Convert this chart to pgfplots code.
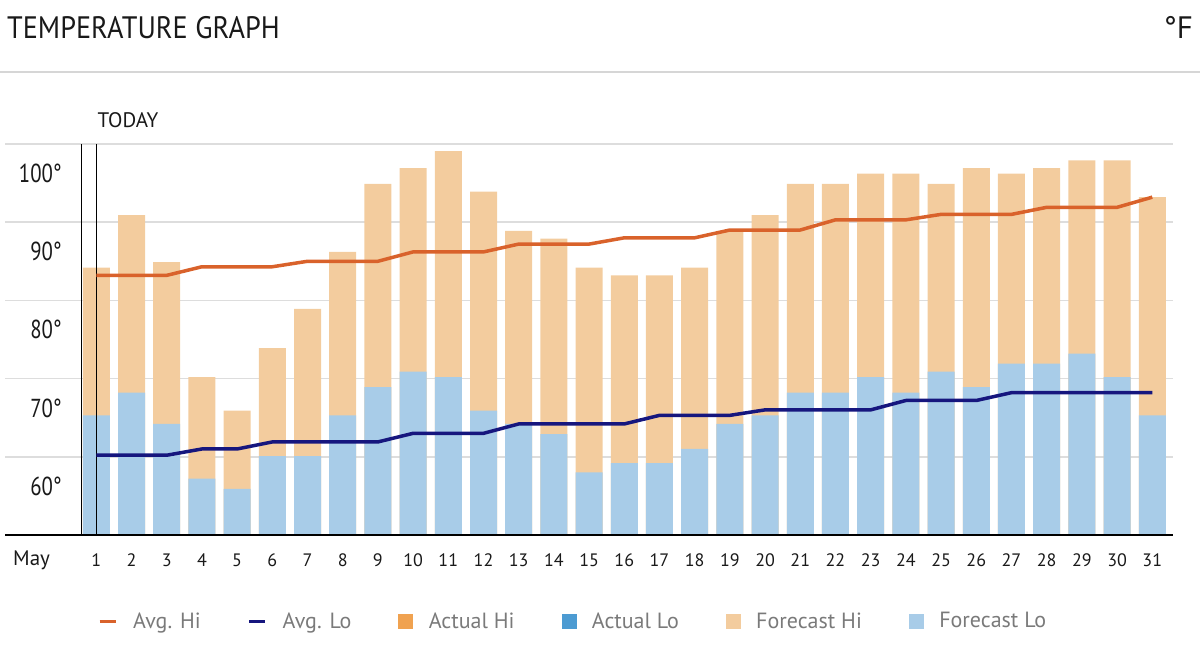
\documentclass[border=0pt]{standalone}
\usepackage{fontspec}
\setmainfont{PT Sans}
\newfontfamily\titlefont[FakeStretch=0.91]{PT Sans}
\newfontfamily\condfont[FakeStretch=0.8]{PT Sans}
\usepackage{pgfplots}
\usepackage{pgfplotstable}
\pgfplotsset{compat=1.18}
\definecolor{fhc}{HTML}{F3CC9E}
\definecolor{flc}{HTML}{A8CCE8}
\definecolor{avghi}{HTML}{D9622B}
\definecolor{avglo}{HTML}{16167E}
\definecolor{ahc}{HTML}{F0A250}
\definecolor{alc}{HTML}{4C9BD2}
\definecolor{gridc}{HTML}{DDDDDD}
\definecolor{hdrc}{HTML}{D6D6D6}
\definecolor{legc}{HTML}{7A7A7A}
\pgfplotstableread{
day fh fl
1 84.2 65.3
2 90.9 68.2
3 84.9 64.2
4 70.2 57.2
5 65.9 55.9
6 73.9 60.1
7 78.9 60.1
8 86.2 65.3
9 94.9 68.9
10 96.9 70.9
11 99.1 70.2
12 93.9 65.9
13 88.9 64.2
14 87.9 62.9
15 84.2 58.0
16 83.2 59.2
17 83.2 59.2
18 84.2 61.0
19 88.9 64.2
20 90.9 65.3
21 94.9 68.2
22 94.9 68.2
23 96.2 70.2
24 96.2 68.2
25 94.9 70.9
26 96.9 68.9
27 96.2 71.9
28 96.9 71.9
29 97.9 73.2
30 97.9 70.2
31 93.2 65.3
}\bars
\pgfplotstableread{
day hi lo
1 83.2 60.2
2 83.2 60.2
3 83.2 60.2
4 84.3 61.0
5 84.3 61.0
6 84.3 61.9
7 85.0 61.9
8 85.0 61.9
9 85.0 61.9
10 86.2 63.0
11 86.2 63.0
12 86.2 63.0
13 87.2 64.2
14 87.2 64.2
15 87.2 64.2
16 88.0 64.2
17 88.0 65.3
18 88.0 65.3
19 89.0 65.3
20 89.0 66.0
21 89.0 66.0
22 90.3 66.0
23 90.3 66.0
24 90.3 67.2
25 91.0 67.2
26 91.0 67.2
27 91.0 68.2
28 91.9 68.2
29 91.9 68.2
30 91.9 68.2
31 93.2 68.2
}\avg
\begin{document}
\begin{tikzpicture}[x=1bp,y=1bp]
\path[use as bounding box] (0,0) rectangle (1200,645);
\node[anchor=base west, inner sep=0, font=\titlefont\fontsize{31bp}{34bp}\selectfont, text=black!90] at (7,606) {TEMPERATURE GRAPH};
\node[anchor=base east, inner sep=0, font=\fontsize{31bp}{34bp}\selectfont, text=black!90] at (1193,606) {°F};
\draw[color=hdrc, line width=2bp] (0,572.5) -- (1200,572.5);
\foreach \v in {60,70,80,90,100} {
  \draw[gridc, line width=1.5bp] (5,{110+(\v-50)*7.82}) -- (1173,{110+(\v-50)*7.82});
}
\begin{axis}[
  at={(81bp,110bp)}, anchor=south west, scale only axis,
  width=1092bp, height=391bp,
  xmin=0.565, xmax=31.59, ymin=50, ymax=100,
  axis x line*=bottom, axis y line*=left,
  axis line style={black, line width=1bp, -},
  x axis line style={draw=none},
  ytick={60,70,80,90,100}, xtick={1,...,31},
  major tick length=0pt,
  /pgf/number format/assume math mode=true,
  yticklabel={\pgfmathprintnumber{\tick}°},
  yticklabel style={font=\condfont\fontsize{26bp}{28bp}\selectfont, text=black!90, anchor=east, inner sep=0pt, xshift=-19bp, yshift=-29.5bp},
  xticklabel style={font=\fontsize{18bp}{20bp}\selectfont, text=black!90, anchor=center, inner sep=0pt, yshift=-25bp},
  legend columns=6,
  legend cell align=left,
  legend style={draw=none, fill=none, inner sep=0pt, at={(0.0156,-0.22)}, anchor=west,
    font=\fontsize{22bp}{24bp}\selectfont, text=legc,
    nodes={inner sep=0pt},
    /tikz/every even column/.append style={column sep=47bp},
    /tikz/every odd column/.append style={column sep=16bp}},
]
\addplot[ybar, bar width=27bp, bar shift=0pt, fill=fhc, draw=none, forget plot] table[x=day, y=fh] {\bars};
\addplot[ybar, bar width=27bp, bar shift=0pt, fill=flc, draw=none, forget plot] table[x=day, y=fl] {\bars};
\draw[black, line width=1bp] (axis cs:1,50) -- (axis cs:1,100);
\coordinate (today) at (axis cs:1,100);
\addplot[avghi, line width=3.5bp, line join=round, forget plot] table[x=day, y=hi] {\avg};
\addplot[avglo, line width=3.5bp, line join=round, forget plot] table[x=day, y=lo] {\avg};
\addlegendimage{legend image code/.code={\draw[line width=3bp, avghi] (0bp,0bp) -- (16bp,0bp);}}
\addlegendentry{Avg. Hi}
\addlegendimage{legend image code/.code={\draw[line width=3bp, avglo] (0bp,0bp) -- (16bp,0bp);}}
\addlegendentry{Avg. Lo}
\addlegendimage{legend image code/.code={\fill[ahc] (0bp,-7bp) rectangle (14bp,7bp);}}
\addlegendentry{Actual Hi}
\addlegendimage{legend image code/.code={\fill[alc] (0bp,-7bp) rectangle (14bp,7bp);}}
\addlegendentry{Actual Lo}
\addlegendimage{legend image code/.code={\fill[fhc] (0bp,-7bp) rectangle (14bp,7bp);}}
\addlegendentry{Forecast Hi}
\addlegendimage{legend image code/.code={\fill[flc] (0bp,-7bp) rectangle (14bp,7bp);}}
\addlegendentry{Forecast Lo}
\end{axis}
\draw[black, line width=1.2bp] (5,110) -- (1173,110);
\node[anchor=base west, inner sep=0, font=\fontsize{21bp}{23bp}\selectfont, text=black!90] at ([xshift=1bp, yshift=16bp]today) {TODAY};
\node[anchor=west, inner sep=0, font=\fontsize{21bp}{23bp}\selectfont, text=black!90] at (13,85) {May};
\end{tikzpicture}
\end{document}
